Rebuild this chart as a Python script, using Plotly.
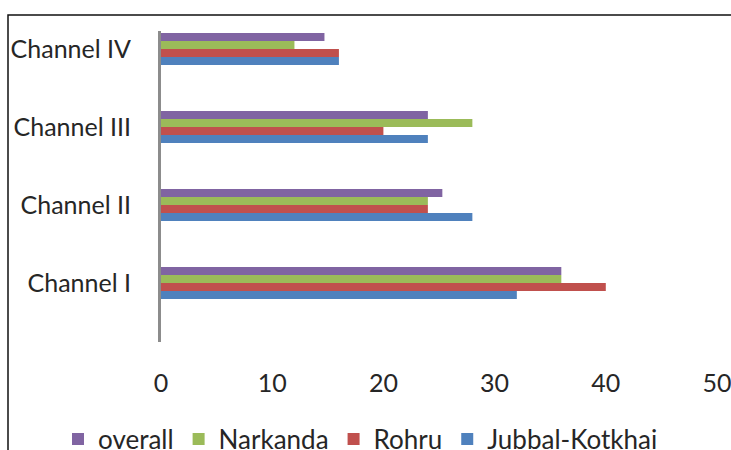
import plotly.graph_objects as go

# Marketing channels and share (%) per region
channels = ["Channel I", "Channel II", "Channel III", "Channel IV"]
jubbal_kotkhai = [32, 28, 24, 16]
rohru = [40, 24, 20, 16]
narkanda = [36, 24, 28, 12]
overall = [36, 25.3, 24, 14.7]
x_ticks = [0, 10, 20, 30, 40, 50]

series = [
    ("Jubbal-Kotkhai", jubbal_kotkhai, "#4F81BD"),
    ("Rohru", rohru, "#C0504D"),
    ("Narkanda", narkanda, "#9BBB59"),
    ("overall", overall, "#8064A2"),
]

FONT = "Lato, 'Liberation Sans', sans-serif"
TEXT = "#262626"

fig = go.Figure()
for name, vals, color in series:
    fig.add_trace(go.Bar(
        y=channels, x=vals, name=name, orientation="h",
        marker=dict(color=color, line=dict(width=0)),
    ))

W, H = 731, 450
L, R, T, B = 161, 14, 31, 108
pw, ph = W - L - R, H - T - B

def px_x(p):
    return (p - L) / pw

def px_y(p):
    return (H - B - p) / ph

fig.update_layout(
    width=W, height=H,
    margin=dict(l=L, r=R, t=T, b=B, autoexpand=False),
    paper_bgcolor="white", plot_bgcolor="white",
    barmode="group", bargap=0.59, bargroupgap=0,
    font=dict(family=FONT, size=25, color=TEXT),
    showlegend=True,
    legend=dict(
        orientation="h", traceorder="reversed",
        x=px_x(58), xanchor="left",
        y=px_y(439), yanchor="middle",
        font=dict(family=FONT, size=26, color=TEXT),
        bgcolor="rgba(0,0,0,0)", itemclick=False, itemwidth=30,
    ),
    xaxis=dict(
        range=[0, 50], tickvals=x_ticks, ticktext=[str(v) for v in x_ticks],
        showgrid=False, zeroline=False, showline=False,
        ticks="", ticklabelstandoff=24, ticklabeloverflow="allow",
        tickfont=dict(family=FONT, size=25, color=TEXT),
    ),
    yaxis=dict(
        type="category", categoryorder="array", categoryarray=channels,
        range=[-0.756, 3.23],
        showgrid=False, zeroline=False,
        showline=True, linecolor="#8C8C8C", linewidth=3,
        ticks="", ticklabelstandoff=22,
        tickfont=dict(family=FONT, size=25, color=TEXT),
    ),
    shapes=[dict(
        type="rect", xref="paper", yref="paper",
        x0=px_x(8), x1=px_x(760), y0=px_y(480), y1=px_y(15),
        line=dict(color="#111111", width=1.5), fillcolor="rgba(0,0,0,0)",
        layer="above",
    )],
)

fig.write_html("out.html")
